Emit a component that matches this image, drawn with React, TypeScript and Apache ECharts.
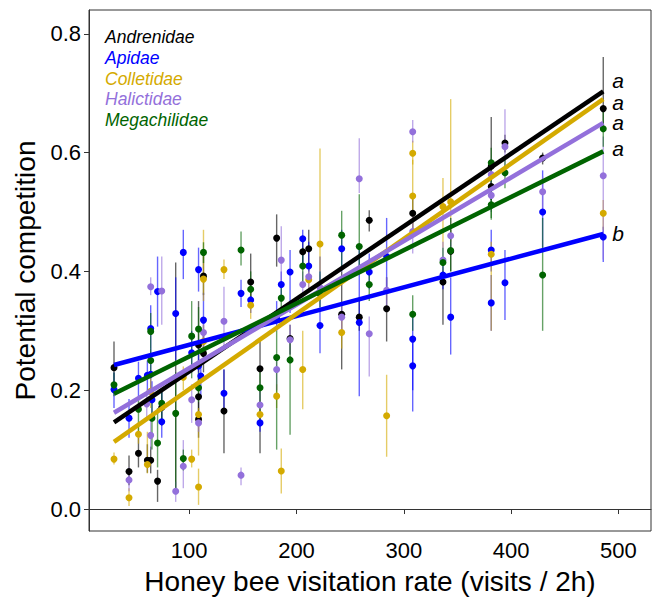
import React, { useEffect, useRef } from "react";
import * as echarts from "echarts";

// [x, y, lower, upper]
const andrenidae: number[][] = [
  [29.9, 0.238, 0.195, 0.282], [43.9, 0.063, 0.04, 0.09], [52.7, 0.094, 0.07, 0.12],
  [61.0, 0.082, 0.061, 0.109], [64.1, 0.082, 0.06, 0.105], [70.5, 0.047, 0.012, 0.066],
  [74.4, 0.171, 0.14, 0.2], [87.4, 0.221, 0.03, 0.415], [108.7, 0.276, 0.23, 0.35],
  [108.7, 0.189, 0.16, 0.22], [108.7, 0.151, 0.12, 0.18], [113.3, 0.392, 0.36, 0.43],
  [113.3, 0.262, 0.23, 0.3], [132.4, 0.165, 0.094, 0.235], [157.3, 0.382, 0.34, 0.43],
  [166.0, 0.236, 0.094, 0.285], [181.5, 0.456, 0.408, 0.496], [194.0, 0.287, 0.26, 0.31],
  [205.8, 0.433, 0.41, 0.46], [211.4, 0.438, 0.4, 0.47], [242.1, 0.328, 0.235, 0.4],
  [258.5, 0.323, 0.3, 0.35], [267.8, 0.486, 0.467, 0.503], [284.0, 0.337, 0.282, 0.39],
  [308.3, 0.498, 0.47, 0.53], [336.5, 0.382, 0.31, 0.4], [343.7, 0.434, 0.4, 0.47],
  [381.5, 0.577, 0.52, 0.66], [381.5, 0.543, 0.52, 0.57], [394.3, 0.616, 0.6, 0.63],
  [429.4, 0.591, 0.58, 0.6], [485.9, 0.674, 0.638, 0.761],
];
const apidae: number[][] = [
  [29.9, 0.201, 0.17, 0.23], [43.9, 0.153, 0.12, 0.185], [52.7, 0.22, 0.19, 0.248],
  [61.0, 0.225, 0.2, 0.25], [64.1, 0.304, 0.26, 0.343], [64.1, 0.227, 0.2, 0.255],
  [65.3, 0.184, 0.15, 0.215], [70.5, 0.366, 0.307, 0.425], [74.4, 0.147, 0.12, 0.2],
  [87.4, 0.329, 0.25, 0.39], [94.5, 0.432, 0.387, 0.47], [102.3, 0.263, 0.23, 0.3],
  [108.7, 0.403, 0.366, 0.44], [108.7, 0.241, 0.21, 0.27], [110.8, 0.224, 0.19, 0.25],
  [113.3, 0.318, 0.285, 0.364], [132.4, 0.195, 0.16, 0.235], [148.3, 0.363, 0.34, 0.386],
  [157.3, 0.352, 0.33, 0.37], [166.0, 0.145, 0.13, 0.16], [181.5, 0.321, 0.3, 0.35],
  [185.8, 0.378, 0.35, 0.4], [194.0, 0.399, 0.33, 0.436], [205.8, 0.455, 0.41, 0.47],
  [211.4, 0.409, 0.38, 0.45], [221.9, 0.309, 0.262, 0.425], [242.1, 0.438, 0.4, 0.47],
  [258.5, 0.314, 0.19, 0.436], [267.8, 0.399, 0.37, 0.43], [284.0, 0.425, 0.37, 0.49],
  [308.3, 0.286, 0.164, 0.33], [308.3, 0.241, 0.2, 0.28], [336.5, 0.394, 0.37, 0.42],
  [343.7, 0.323, 0.26, 0.39], [381.5, 0.436, 0.4, 0.47], [381.5, 0.347, 0.3, 0.394],
  [394.3, 0.381, 0.318, 0.436], [429.4, 0.5, 0.44, 0.57], [485.9, 0.458, 0.416, 0.475],
];
const colletidae: number[][] = [
  [29.9, 0.084, 0.075, 0.095], [43.9, 0.019, 0.005, 0.035], [52.7, 0.126, 0.11, 0.14],
  [61.0, 0.075, 0.06, 0.13], [64.1, 0.198, 0.17, 0.22], [94.5, 0.222, 0.2, 0.24],
  [102.3, 0.084, 0.07, 0.1], [108.7, 0.159, 0.09, 0.17], [108.7, 0.037, 0.007, 0.068],
  [113.3, 0.387, 0.35, 0.47], [113.3, 0.282, 0.26, 0.31], [132.4, 0.403, 0.387, 0.42],
  [157.3, 0.343, 0.32, 0.37], [166.0, 0.159, 0.14, 0.18], [181.5, 0.19, 0.17, 0.21],
  [185.8, 0.064, 0.026, 0.102], [205.8, 0.235, 0.168, 0.3], [211.4, 0.386, 0.37, 0.4],
  [221.9, 0.446, 0.4, 0.607], [242.1, 0.297, 0.27, 0.32], [284.0, 0.157, 0.088, 0.226],
  [308.3, 0.599, 0.58, 0.62], [308.3, 0.527, 0.465, 0.588], [336.5, 0.509, 0.44, 0.557],
  [343.7, 0.517, 0.45, 0.69], [381.5, 0.429, 0.3, 0.45], [485.9, 0.498, 0.47, 0.52],
];
const halictidae: number[][] = [
  [43.9, 0.049, 0.03, 0.07], [60.4, 0.177, 0.15, 0.2], [64.1, 0.374, 0.36, 0.39],
  [64.1, 0.124, 0.1, 0.15], [74.4, 0.367, 0.31, 0.425], [87.4, 0.03, 0.012, 0.046],
  [94.5, 0.072, 0.035, 0.116], [102.3, 0.184, 0.145, 0.21], [108.7, 0.145, 0.13, 0.16],
  [113.3, 0.297, 0.27, 0.32], [132.4, 0.316, 0.273, 0.374], [148.3, 0.057, 0.04, 0.07],
  [166.0, 0.175, 0.15, 0.2], [181.5, 0.235, 0.2, 0.26], [185.8, 0.419, 0.38, 0.476],
  [194.0, 0.285, 0.26, 0.31], [205.8, 0.378, 0.35, 0.4], [211.4, 0.391, 0.37, 0.41],
  [221.9, 0.373, 0.35, 0.395], [242.1, 0.323, 0.3, 0.345], [258.5, 0.556, 0.532, 0.624],
  [267.8, 0.295, 0.223, 0.324], [284.0, 0.368, 0.34, 0.39], [308.3, 0.635, 0.617, 0.655],
  [308.3, 0.467, 0.43, 0.5], [336.5, 0.419, 0.39, 0.45], [343.7, 0.46, 0.43, 0.49],
  [381.5, 0.563, 0.54, 0.59], [381.5, 0.528, 0.5, 0.55], [394.3, 0.61, 0.56, 0.673],
  [429.4, 0.534, 0.5, 0.56], [485.9, 0.561, 0.42, 0.627],
];
const megachilidae: number[][] = [
  [29.9, 0.209, 0.19, 0.23], [52.7, 0.168, 0.13, 0.186], [64.1, 0.299, 0.27, 0.33],
  [64.1, 0.25, 0.22, 0.27], [65.3, 0.153, 0.1, 0.18], [70.5, 0.111, 0.07, 0.17],
  [74.4, 0.178, 0.15, 0.2], [87.4, 0.161, 0.03, 0.23], [94.5, 0.085, 0.065, 0.1],
  [102.3, 0.291, 0.22, 0.35], [108.7, 0.303, 0.27, 0.34], [108.7, 0.204, 0.18, 0.23],
  [113.3, 0.432, 0.414, 0.449], [148.3, 0.436, 0.41, 0.467], [157.3, 0.37, 0.34, 0.4],
  [166.0, 0.204, 0.15, 0.234], [181.5, 0.255, 0.1, 0.3], [185.8, 0.355, 0.33, 0.38],
  [194.0, 0.251, 0.125, 0.28], [205.8, 0.409, 0.38, 0.44], [221.9, 0.362, 0.34, 0.4],
  [242.1, 0.461, 0.405, 0.502], [258.5, 0.442, 0.4, 0.53], [267.8, 0.378, 0.35, 0.4],
  [308.3, 0.328, 0.3, 0.36], [336.5, 0.415, 0.39, 0.44], [343.7, 0.435, 0.4, 0.49],
  [381.5, 0.583, 0.487, 0.608], [381.5, 0.512, 0.49, 0.54], [394.3, 0.566, 0.54, 0.59],
  [429.4, 0.394, 0.3, 0.49], [485.9, 0.64, 0.61, 0.67],
];

const families = ["Andrenidae", "Apidae", "Colletidae", "Halictidae", "Megachilidae"];
const familyData = [andrenidae, apidae, colletidae, halictidae, megachilidae];
const colors = ["#000000", "#0000FF", "#D4AA00", "#9370DB", "#006400"];

// fitted regression lines: y at x start and x end
const fitX = [29.9, 485.9];
const fitAndrenidae = [0.146, 0.703];
const fitApidae = [0.2425, 0.463];
const fitColletidae = [0.113, 0.69];
const fitHalictidae = [0.162, 0.65];
const fitMegachilidae = [0.194, 0.602];
const fits = [fitAndrenidae, fitApidae, fitColletidae, fitHalictidae, fitMegachilidae];
const letters = ["a", "b", "a", "a", "a"];
const letterOffsets = [[0, -11], [0, 0], [0, 3], [0, 0], [0, -3]];

const xTicks = [100, 200, 300, 400, 500];
const yTicks = [0, 0.2, 0.4, 0.6, 0.8];

const FONT = '"Liberation Sans", Arial, Helvetica, sans-serif';

export default function App() {
  const ref = useRef<HTMLDivElement>(null);
  useEffect(() => {
    if (!ref.current) return;
    const chart = echarts.init(ref.current, null, { renderer: "svg" });
    const series: any[] = [];
    familyData.forEach((d, i) => {
      series.push({
        type: "custom",
        name: families[i] + " err",
        z: 1,
        data: d,
        encode: { x: 0, y: [2, 3] },
        renderItem: (params: any, api: any) => {
          const x = api.value(0);
          const p1 = api.coord([x, api.value(2)]);
          const p2 = api.coord([x, api.value(3)]);
          return {
            type: "line",
            shape: { x1: p1[0], y1: p1[1], x2: p2[0], y2: p2[1] },
            style: { stroke: colors[i], lineWidth: 1.4, opacity: 0.6 },
          };
        },
      });
    });
    familyData.forEach((d, i) => {
      series.push({
        type: "scatter",
        name: families[i],
        z: 2,
        symbolSize: 7,
        itemStyle: { color: colors[i], opacity: 1 },
        data: d.map((r) => [r[0], r[1]]),
      });
    });
    fits.forEach((f, i) => {
      series.push({
        type: "line",
        name: families[i] + " fit",
        z: 3,
        showSymbol: false,
        symbol: "none",
        lineStyle: { color: colors[i], width: 4.5 },
        data: [[fitX[0], f[0]], [fitX[1], f[1]]],
        endLabel: {
          show: true,
          formatter: letters[i],
          color: "#000",
          fontSize: 21,
          lineHeight: 19,
          fontStyle: "italic",
          fontFamily: FONT,
          distance: 9,
          offset: letterOffsets[i],
        },
      });
    });

    const legendTexts = families.map((name, i) => ({
      type: "text",
      left: 105,
      top: 28 + i * 20.75,
      style: {
        text: name,
        fill: colors[i],
        fontSize: 17.5,
        fontStyle: "italic",
        fontFamily: FONT,
      },
    }));

    chart.setOption({
      animation: false,
      backgroundColor: "#fff",
      grid: {
        left: 89,
        right: 1,
        top: 10,
        bottom: 71,
        show: true,
        borderColor: "#333",
        borderWidth: 1,
        backgroundColor: "transparent",
      },
      xAxis: {
        type: "value",
        min: 6.6,
        max: 530.4,
        splitLine: { show: false },
        axisLine: { show: true, lineStyle: { color: "#333", width: 1 } },
        axisTick: { show: true, customValues: xTicks, length: 5, lineStyle: { color: "#333" } },
        axisLabel: {
          customValues: xTicks,
          fontSize: 22,
          color: "#000",
          fontFamily: FONT,
          margin: 8,
        },
        name: "Honey bee visitation rate (visits / 2h)",
        nameLocation: "middle",
        nameGap: 36,
        nameTextStyle: { fontSize: 28, color: "#000", fontFamily: FONT },
      },
      yAxis: {
        type: "value",
        min: -0.037,
        max: 0.84,
        splitLine: { show: false },
        axisLine: { show: true, lineStyle: { color: "#333", width: 1 } },
        axisTick: { show: true, customValues: yTicks, length: 5, lineStyle: { color: "#333" } },
        axisLabel: {
          customValues: yTicks,
          fontSize: 22,
          color: "#000",
          fontFamily: FONT,
          margin: 8,
          formatter: (v: number) => v.toFixed(1),
        },
        name: "Potential competition",
        nameLocation: "middle",
        nameGap: 50,
        nameTextStyle: { fontSize: 28, color: "#000", fontFamily: FONT },
      },
      graphic: legendTexts,
      series,
    });
    return () => chart.dispose();
  }, []);
  return (
    <div
      ref={ref}
      style={{ position: "absolute", left: 0, top: 0, width: 652, height: 602 }}
    />
  );
}
